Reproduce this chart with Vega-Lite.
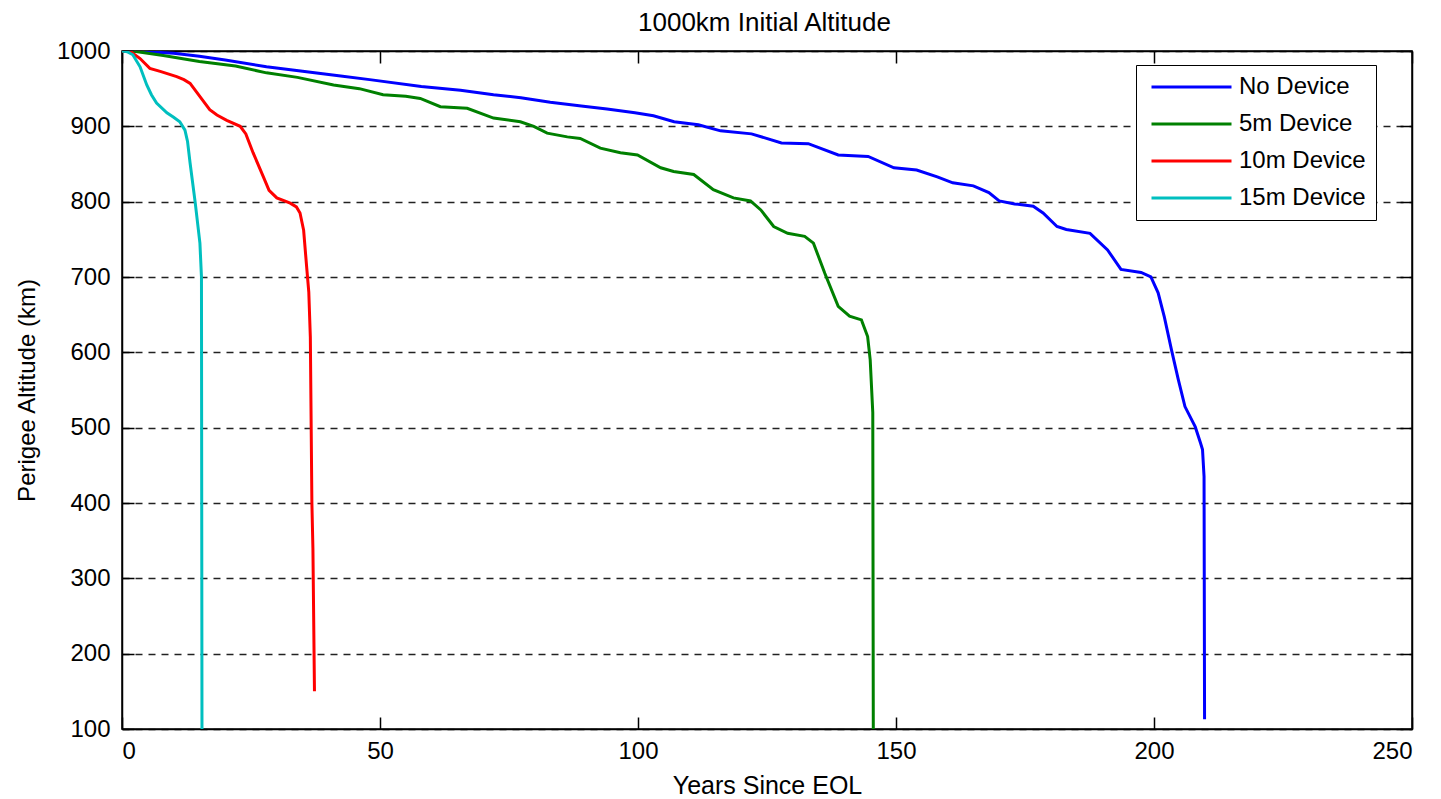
{
  "$schema": "https://vega.github.io/schema/vega-lite/v6.json",
  "width": 1290,
  "height": 678,
  "autosize": {"type": "none"},
  "padding": {"left": 122, "top": 51, "right": 29, "bottom": 70},
  "background": "white",
  "config": {
    "font": "Liberation Sans",
    "view": {"stroke": "black", "strokeWidth": 1.5},
    "axis": {"labelFontSize": 24, "labelColor": "black", "titleFontSize": 24, "titleFontWeight": "normal", "titleColor": "black", "domainColor": "black", "domainWidth": 1.5, "tickColor": "black", "tickWidth": 1.5, "tickSize": -12, "labelFont": "Liberation Sans", "titleFont": "Liberation Sans"}
  },
  "data": {"values": [
    {"series": "No Device", "year": 0, "alt": 1000},
    {"series": "No Device", "year": 5, "alt": 999},
    {"series": "No Device", "year": 10, "alt": 997},
    {"series": "No Device", "year": 15, "alt": 993},
    {"series": "No Device", "year": 20, "alt": 988},
    {"series": "No Device", "year": 28, "alt": 979},
    {"series": "No Device", "year": 35, "alt": 973},
    {"series": "No Device", "year": 42, "alt": 967},
    {"series": "No Device", "year": 48, "alt": 962},
    {"series": "No Device", "year": 58, "alt": 953},
    {"series": "No Device", "year": 65.6, "alt": 948},
    {"series": "No Device", "year": 72, "alt": 942},
    {"series": "No Device", "year": 77.3, "alt": 938},
    {"series": "No Device", "year": 83, "alt": 932},
    {"series": "No Device", "year": 89, "alt": 927},
    {"series": "No Device", "year": 94, "alt": 923},
    {"series": "No Device", "year": 99.4, "alt": 918},
    {"series": "No Device", "year": 103, "alt": 914},
    {"series": "No Device", "year": 107, "alt": 906},
    {"series": "No Device", "year": 111.7, "alt": 902},
    {"series": "No Device", "year": 116, "alt": 894},
    {"series": "No Device", "year": 122, "alt": 890},
    {"series": "No Device", "year": 127.8, "alt": 878},
    {"series": "No Device", "year": 133, "alt": 877},
    {"series": "No Device", "year": 138.8, "alt": 862},
    {"series": "No Device", "year": 144.6, "alt": 860},
    {"series": "No Device", "year": 149.6, "alt": 845},
    {"series": "No Device", "year": 154, "alt": 842},
    {"series": "No Device", "year": 158, "alt": 833},
    {"series": "No Device", "year": 161, "alt": 825},
    {"series": "No Device", "year": 165, "alt": 821},
    {"series": "No Device", "year": 168, "alt": 812},
    {"series": "No Device", "year": 170, "alt": 801},
    {"series": "No Device", "year": 173, "alt": 797},
    {"series": "No Device", "year": 176.6, "alt": 794},
    {"series": "No Device", "year": 178.5, "alt": 785},
    {"series": "No Device", "year": 181.2, "alt": 767},
    {"series": "No Device", "year": 183, "alt": 763},
    {"series": "No Device", "year": 187.6, "alt": 758},
    {"series": "No Device", "year": 191, "alt": 736},
    {"series": "No Device", "year": 193.6, "alt": 710},
    {"series": "No Device", "year": 197.5, "alt": 706},
    {"series": "No Device", "year": 199.4, "alt": 700},
    {"series": "No Device", "year": 200.8, "alt": 679},
    {"series": "No Device", "year": 202, "alt": 647},
    {"series": "No Device", "year": 203.4, "alt": 603},
    {"series": "No Device", "year": 204.7, "alt": 564},
    {"series": "No Device", "year": 206, "alt": 528},
    {"series": "No Device", "year": 208, "alt": 501},
    {"series": "No Device", "year": 209, "alt": 480},
    {"series": "No Device", "year": 209.4, "alt": 471},
    {"series": "No Device", "year": 209.7, "alt": 435},
    {"series": "No Device", "year": 209.8, "alt": 113},
    {"series": "5m Device", "year": 0, "alt": 1000},
    {"series": "5m Device", "year": 2, "alt": 1000},
    {"series": "5m Device", "year": 8, "alt": 994},
    {"series": "5m Device", "year": 15, "alt": 986},
    {"series": "5m Device", "year": 22, "alt": 980},
    {"series": "5m Device", "year": 28, "alt": 971},
    {"series": "5m Device", "year": 34, "alt": 965},
    {"series": "5m Device", "year": 41, "alt": 955},
    {"series": "5m Device", "year": 46, "alt": 950},
    {"series": "5m Device", "year": 50.6, "alt": 942},
    {"series": "5m Device", "year": 55, "alt": 940},
    {"series": "5m Device", "year": 57.8, "alt": 937},
    {"series": "5m Device", "year": 61.7, "alt": 926},
    {"series": "5m Device", "year": 66.9, "alt": 924},
    {"series": "5m Device", "year": 72, "alt": 911},
    {"series": "5m Device", "year": 77.2, "alt": 906},
    {"series": "5m Device", "year": 79.8, "alt": 900},
    {"series": "5m Device", "year": 82.4, "alt": 891},
    {"series": "5m Device", "year": 86.3, "alt": 886},
    {"series": "5m Device", "year": 88.8, "alt": 884},
    {"series": "5m Device", "year": 92.7, "alt": 871},
    {"series": "5m Device", "year": 96.6, "alt": 865},
    {"series": "5m Device", "year": 99.9, "alt": 862},
    {"series": "5m Device", "year": 104.4, "alt": 845},
    {"series": "5m Device", "year": 106.9, "alt": 840},
    {"series": "5m Device", "year": 110.8, "alt": 836},
    {"series": "5m Device", "year": 114.6, "alt": 816},
    {"series": "5m Device", "year": 118.5, "alt": 805},
    {"series": "5m Device", "year": 121.8, "alt": 801},
    {"series": "5m Device", "year": 123.8, "alt": 789},
    {"series": "5m Device", "year": 126.3, "alt": 767},
    {"series": "5m Device", "year": 129, "alt": 758},
    {"series": "5m Device", "year": 132.3, "alt": 754},
    {"series": "5m Device", "year": 134, "alt": 745},
    {"series": "5m Device", "year": 136.2, "alt": 705},
    {"series": "5m Device", "year": 138.8, "alt": 661},
    {"series": "5m Device", "year": 141, "alt": 648},
    {"series": "5m Device", "year": 143.3, "alt": 643},
    {"series": "5m Device", "year": 144.5, "alt": 621},
    {"series": "5m Device", "year": 145, "alt": 590},
    {"series": "5m Device", "year": 145.5, "alt": 520},
    {"series": "5m Device", "year": 145.6, "alt": 100},
    {"series": "10m Device", "year": 0, "alt": 1000},
    {"series": "10m Device", "year": 1.5, "alt": 1000},
    {"series": "10m Device", "year": 3.5, "alt": 990},
    {"series": "10m Device", "year": 5.4, "alt": 977},
    {"series": "10m Device", "year": 7.4, "alt": 973},
    {"series": "10m Device", "year": 10.6, "alt": 966},
    {"series": "10m Device", "year": 12, "alt": 962},
    {"series": "10m Device", "year": 13.2, "alt": 957},
    {"series": "10m Device", "year": 14.5, "alt": 945},
    {"series": "10m Device", "year": 15.8, "alt": 933},
    {"series": "10m Device", "year": 17, "alt": 922},
    {"series": "10m Device", "year": 18.4, "alt": 915},
    {"series": "10m Device", "year": 20.3, "alt": 908},
    {"series": "10m Device", "year": 22.9, "alt": 900},
    {"series": "10m Device", "year": 24, "alt": 890},
    {"series": "10m Device", "year": 25.4, "alt": 865},
    {"series": "10m Device", "year": 27.4, "alt": 833},
    {"series": "10m Device", "year": 28.5, "alt": 815},
    {"series": "10m Device", "year": 30, "alt": 805},
    {"series": "10m Device", "year": 32.6, "alt": 798},
    {"series": "10m Device", "year": 33.8, "alt": 793},
    {"series": "10m Device", "year": 34.5, "alt": 785},
    {"series": "10m Device", "year": 35.2, "alt": 762},
    {"series": "10m Device", "year": 35.8, "alt": 712},
    {"series": "10m Device", "year": 36.2, "alt": 680},
    {"series": "10m Device", "year": 36.5, "alt": 620},
    {"series": "10m Device", "year": 36.8, "alt": 400},
    {"series": "10m Device", "year": 37, "alt": 340},
    {"series": "10m Device", "year": 37.3, "alt": 150},
    {"series": "15m Device", "year": 0, "alt": 1000},
    {"series": "15m Device", "year": 1, "alt": 999},
    {"series": "15m Device", "year": 2.1, "alt": 995},
    {"series": "15m Device", "year": 3.5, "alt": 979},
    {"series": "15m Device", "year": 4.8, "alt": 955},
    {"series": "15m Device", "year": 5.7, "alt": 942},
    {"series": "15m Device", "year": 6.7, "alt": 931},
    {"series": "15m Device", "year": 8.7, "alt": 918},
    {"series": "15m Device", "year": 10, "alt": 912},
    {"series": "15m Device", "year": 11.2, "alt": 906},
    {"series": "15m Device", "year": 12.2, "alt": 895},
    {"series": "15m Device", "year": 12.7, "alt": 880},
    {"series": "15m Device", "year": 13.2, "alt": 851},
    {"series": "15m Device", "year": 14.2, "alt": 798},
    {"series": "15m Device", "year": 15.1, "alt": 745},
    {"series": "15m Device", "year": 15.4, "alt": 700},
    {"series": "15m Device", "year": 15.5, "alt": 100}
  ]},
  "layer": [
    {
      "mark": {"type": "line", "strokeWidth": 3, "clip": true},
      "encoding": {
        "x": {"field": "year", "type": "quantitative", "scale": {"domain": [0, 250], "nice": false, "zero": false},
              "axis": {"orient": "bottom", "values": [0, 50, 100, 150, 200, 250], "title": "Years Since EOL", "labelPadding": 22, "grid": false, "titleY": 64, "titleBaseline": "alphabetic", "titleFontSize": 25}},
        "y": {"field": "alt", "type": "quantitative", "scale": {"domain": [100, 1000], "nice": false, "zero": false},
              "axis": {"orient": "left", "values": [100, 200, 300, 400, 500, 600, 700, 800, 900, 1000], "format": "d", "title": "Perigee Altitude (km)", "labelPadding": 24, "grid": true, "gridColor": "#222222", "gridDash": [7, 6], "gridWidth": 1.3, "gridOpacity": 1, "titleX": -88, "titleY": 339, "titleAngle": -90, "titleAlign": "center", "titleBaseline": "alphabetic"}},
        "color": {"field": "series", "type": "nominal",
                  "scale": {"domain": ["No Device", "5m Device", "10m Device", "15m Device"], "range": ["#0000ff", "#008000", "#ff0000", "#00bfbf"]},
                  "legend": {"orient": "none", "legendX": 1014, "legendY": 14, "title": null, "symbolType": "M-0.65,0H7.35", "symbolSize": 400, "symbolStrokeWidth": 3, "labelFontSize": 24, "labelColor": "black", "labelOffset": 69, "padding": 10, "rowPadding": 13, "strokeColor": "black", "fillColor": "white", "cornerRadius": 0, "symbolOpacity": 1}}
      }
    },
    {
      "mark": {"type": "line", "strokeOpacity": 0},
      "encoding": {
        "x": {"field": "year", "type": "quantitative", "axis": {"orient": "top", "values": [0, 50, 100, 150, 200, 250], "labels": false, "title": "1000km Initial Altitude", "grid": false, "titleX": 642, "titleY": -21, "titleAlign": "center", "titleBaseline": "alphabetic", "titleAngle": 0, "titleFontSize": 26}},
        "y": {"field": "alt", "type": "quantitative", "axis": {"orient": "right", "values": [100, 200, 300, 400, 500, 600, 700, 800, 900, 1000], "labels": false, "title": null, "grid": false}},
        "detail": {"field": "series", "type": "nominal"}
      }
    }
  ],
  "resolve": {"axis": {"x": "independent", "y": "independent"}}
}
